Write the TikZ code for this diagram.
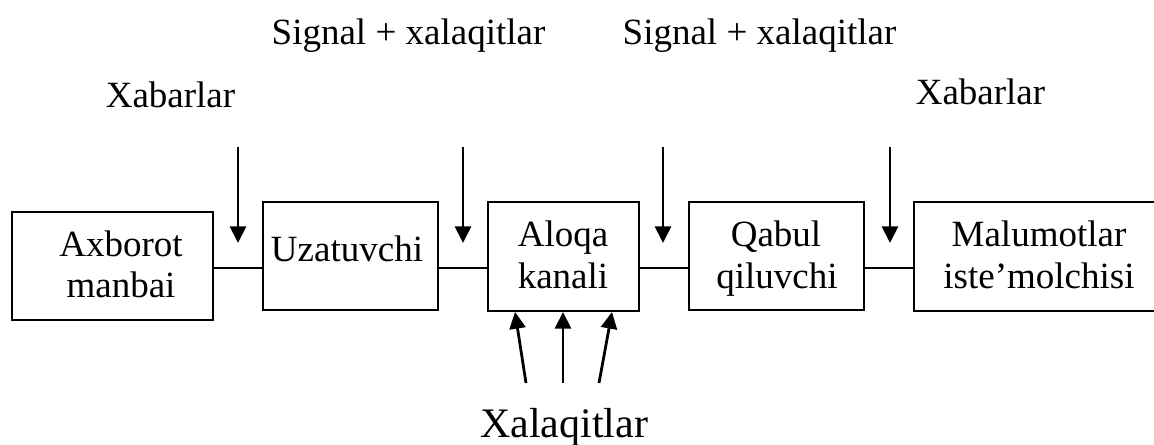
\documentclass[tikz,border=0pt]{standalone}
\usepackage{fontspec}
\setmainfont{Liberation Serif}
\usetikzlibrary{arrows.meta}
\begin{document}
\begin{tikzpicture}[x=0.75pt,y=-0.75pt,
  blockbox/.style={draw,line width=1.6pt,inner sep=0pt,outer sep=0pt,minimum height=81pt},
  txt/.style={anchor=base,inner sep=0pt,font=\fontsize{27.75pt}{33pt}\selectfont},
  bigtxt/.style={anchor=base,inner sep=0pt,font=\fontsize{31.5pt}{36pt}\selectfont},
  wire/.style={line width=1.5pt},
  inarrow/.style={line width=2.1pt,-{Triangle[length=12.5pt,width=12pt]}}]
\useasboundingbox (0,0) rectangle (1154,445);
\clip (0,0) rectangle (1154,445);
% blocks
\node[blockbox,minimum width=150.75pt] (b1) at (112.5,266) {};
\node[blockbox,minimum width=131.25pt] (b2) at (350.5,256) {};
\node[blockbox,minimum width=113.25pt,minimum height=81.75pt] (b3) at (563.5,256.5) {};
\node[blockbox,minimum width=131.25pt] (b4) at (776.5,256) {};
\node[blockbox,minimum width=192pt,minimum height=81.75pt] (b5) at (1042,256.5) {};
% block texts
\node[txt] (t1a) at (121,257) {Axborot};
\node[txt] (t1b) at (121,298) {manbai};
\node[txt] (t2) at (347,262) {Uzatuvchi};
\node[txt] (t3a) at (563,247) {Aloqa};
\node[txt] (t3b) at (563,289) {kanali};
\node[txt] (t4a) at (776,247) {Qabul};
\node[txt] (t4b) at (777,289) {qiluvchi};
\node[txt] (t5a) at (1039,247) {Malumotlar};
\node[txt] (t5b) at (1039,289) {iste’molchisi};
% top labels
\node[txt] (s1) at (408.5,45) {Signal + xalaqitlar};
\node[txt] (s2) at (759.5,45) {Signal + xalaqitlar};
\node[txt] (x1) at (170.5,108) {Xabarlar};
\node[txt] (x2) at (980.5,105) {Xabarlar};
\node[bigtxt] (xq) at (564,438) {Xalaqitlar};
% connectors
\coordinate (ly) at (0,268);
\draw[wire] (b1.east |- ly) -- (b2.west |- ly);
\draw[wire] (b2.east |- ly) -- (b3.west |- ly);
\draw[wire] (b3.east |- ly) -- (b4.west |- ly);
\draw[wire] (b4.east |- ly) -- (b5.west |- ly);
% top arrows
\coordinate (a1s) at (238,147); \coordinate (a1e) at (238,243);
\coordinate (a2s) at (463,147); \coordinate (a2e) at (463,243);
\coordinate (a3s) at (663,147); \coordinate (a3e) at (663,243);
\coordinate (a4s) at (890,147); \coordinate (a4e) at (890,243);
\draw[inarrow] (a1s) -- (a1e);
\draw[inarrow] (a2s) -- (a2e);
\draw[inarrow] (a3s) -- (a3e);
\draw[inarrow] (a4s) -- (a4e);
% noise arrows
\coordinate (n1s) at (526,383); \coordinate (n1e) at (515,312);
\coordinate (n2s) at (563,383); \coordinate (n2e) at (563,312);
\coordinate (n3s) at (599,383); \coordinate (n3e) at (612,312);
\draw[inarrow] (n1s) -- (n1e);
\draw[inarrow] (n2s) -- (n2e);
\draw[inarrow] (n3s) -- (n3e);
\end{tikzpicture}
\end{document}
